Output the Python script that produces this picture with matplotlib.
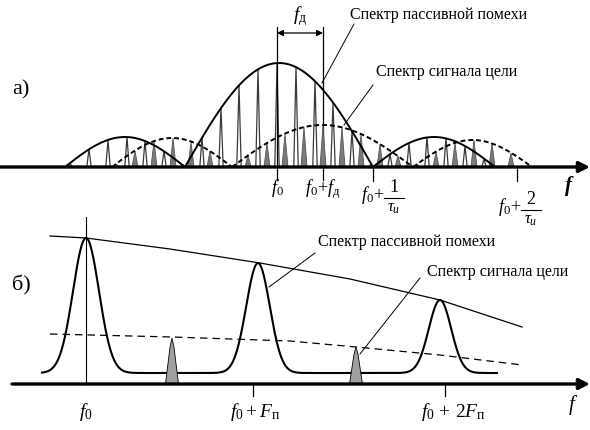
import numpy as np
import matplotlib
matplotlib.use('Agg')
from matplotlib import pyplot as plt

plt.rcParams['font.family'] = ['Liberation Serif', 'DejaVu Serif']
plt.rcParams['mathtext.fontset'] = 'custom'
plt.rcParams['mathtext.rm'] = 'Liberation Serif'
plt.rcParams['mathtext.it'] = 'Liberation Serif:italic'
plt.rcParams['mathtext.bf'] = 'Liberation Serif:bold:italic'

# ---- panel a) : comb spectra (x in px-like units, heights above the axis)
# lobes of envelopes: start, end, peak height
clutter_lobes = [(65, 185, 30), (185, 373, 104), (373, 495, 30)]
target_lobes = [(112, 232, 29), (232, 413, 42), (413, 532, 27)]

clutter_x = [70, 89, 108, 127, 145, 164, 183, 202, 221, 239, 258, 277,
             296, 315, 333, 352, 371, 390, 409, 427, 446, 465, 484]
clutter_h = [4, 18, 27, 30, 26, 16, 2, 29, 59, 82, 98, 104,
             100, 86, 64, 36, 3, 13, 24, 30, 29, 21, 8]
target_x = [116, 135, 154, 173, 191, 210, 229, 248, 267, 285, 304, 323,
            342, 361, 380, 398, 417, 436, 455, 474, 492, 511, 530]
target_h = [3, 16, 26, 29, 25, 16, 2, 12, 24, 33, 40, 42,
            40, 33, 23, 11, 3, 15, 24, 27, 24, 14, 1]

f0_a = 277
fd_a = 323
ticks_a = [373, 517]
frac_num = ['1', '2']

# ---- panel b) : filter response
peak_x = [86, 258, 440]
peak_h = [146, 121, 84]
peak_w = [13, 11.8, 11.2]
floor_h = 11
resp_range = (42, 497)

env_x = [50, 86, 170, 260, 350, 440, 522]
env_h = [148, 146, 135, 121, 105, 84, 57]
dash_x = [50, 172, 290, 356, 440, 522]
dash_h = [50, 47, 43, 37, 29, 19]
tgt_b_x = [172, 356]
tgt_b_h = [46, 37]
ticks_b = [86, 253, 445]
ticks_b_labels = [r'$f_0$', r'$f_0 + F_{\mathrm{п}}$', r'$f_0\, +\, 2F_{\mathrm{п}}$']

fig = plt.figure(figsize=(5.9, 4.3), dpi=100)
ax1 = fig.add_axes([0, 0.5, 1, 0.5])
ax1.set_xlim(0, 590)
ax1.set_ylim(-48, 167)
ax1.axis('off')

# spikes
for x, h in zip(clutter_x, clutter_h):
    ax1.fill([x - 2.2, x, x + 2.2], [0, h, 0], facecolor='white',
             edgecolor='#3a3a3a', lw=0.9, zorder=2)
for x, h in zip(target_x, target_h):
    ax1.fill([x - 3, x, x + 3], [0, h, 0], facecolor='#7a7a7a',
             edgecolor='#555555', lw=0.6, zorder=3)

# envelopes
for a, b, h in clutter_lobes:
    xx = np.linspace(a, b, 80)
    ax1.plot(xx, h * np.sin(np.pi * (xx - a) / (b - a)), color='k', lw=1.4, zorder=4)
for a, b, h in target_lobes:
    xx = np.linspace(a, b, 80)
    ax1.plot(xx, h * np.sin(np.pi * (xx - a) / (b - a)), color='k', lw=1.4,
             ls=(0, (2.5, 1.5)), zorder=4)

ax1.annotate('', xy=(590, 0), xytext=(0, 0),
             arrowprops=dict(arrowstyle='-|>', lw=2.4, color='k', mutation_scale=16,
                             shrinkA=0, shrinkB=0))
ax1.plot([f0_a, f0_a], [-13, 140], color='k', lw=0.9)
ax1.plot([fd_a, fd_a], [-13, 140], color='k', lw=0.9)
for t in ticks_a:
    ax1.plot([t, t], [0, -14], color='k', lw=0.9)
ax1.annotate('', xy=(f0_a, 134), xytext=(fd_a, 134),
             arrowprops=dict(arrowstyle='<|-|>', lw=0.9, color='k', mutation_scale=9,
                             shrinkA=0, shrinkB=0))
ax1.text(300, 151, r'$f_{\mathrm{д}}$', fontsize=14, ha='center', va='center')

ax1.text(f0_a, -21, r'$f_0$', fontsize=13, ha='center', va='center')
ax1.text(fd_a, -22, r'$f_0\!+\!f_{\mathrm{д}}$', fontsize=13, ha='center', va='center')

# f0 + n/tau labels, fraction built by hand
frac_pos = [(384, -28), (521, -40)]
for (xp, yp), num in zip(frac_pos, frac_num):
    ax1.text(xp, yp, r'$f_0\!+$', fontsize=13, ha='right', va='center')
    xc = xp + 10
    ax1.text(xc, yp - 1, num, fontsize=13, ha='center', va='bottom')
    ax1.plot([xp, xp + 20], [yp - 3, yp - 3], color='k', lw=0.8)
    ax1.text(xc, yp - 4.5, r'$\tau_{\mathit{и}}$', fontsize=12, ha='center', va='top')

ax1.text(569, -19, r'$\mathbf{f}$', fontsize=15, ha='center', va='center')
ax1.text(21, 77, 'а)', fontsize=16, ha='center', va='center')

ax1.text(350, 152, 'Спектр пассивной помехи', fontsize=11.5, ha='left', va='center')
ax1.plot([354, 322], [143, 84], color='k', lw=0.7)
ax1.text(376, 95, 'Спектр сигнала цели', fontsize=11.5, ha='left', va='center')
ax1.plot([373, 344], [82, 42], color='k', lw=0.7)

# ---- panel b
ax2 = fig.add_axes([0, 0, 1, 0.5])
ax2.set_xlim(0, 590)
ax2.set_ylim(-46, 169)
ax2.axis('off')

xx = np.linspace(resp_range[0], resp_range[1], 600)
yy = np.full_like(xx, float(floor_h))
for c, h, w in zip(peak_x, peak_h, peak_w):
    yy += (h - floor_h) * np.exp(-0.5 * ((xx - c) / w) ** 2)
ax2.plot(xx, yy, color='k', lw=1.5)
ax2.plot(env_x, env_h, color='k', lw=0.9)
ax2.plot(dash_x, dash_h, color='k', lw=0.9, ls=(0, (6, 4)))
for x, h in zip(tgt_b_x, tgt_b_h):
    ax2.fill([x - 6.5, x - 2, x, x + 2, x + 6.5], [0, h * 0.8, h, h * 0.8, 0],
             facecolor='#a0a0a0', edgecolor='k', lw=0.6, zorder=3)

ax2.annotate('', xy=(590, 0), xytext=(12, 0),
             arrowprops=dict(arrowstyle='-|>', lw=2.4, color='k', mutation_scale=16,
                             shrinkA=0, shrinkB=0))
ax2.plot([ticks_b[0], ticks_b[0]], [0, 167], color='k', lw=0.8)
for t in ticks_b[1:]:
    ax2.plot([t, t], [0, -12], color='k', lw=0.9)
label_dx = [0, 2, 8]
for t, lab, dx in zip(ticks_b, ticks_b_labels, label_dx):
    ax2.text(t + dx, -28, lab, fontsize=14, ha='center', va='center')
ax2.text(573, -21, r'$f$', fontsize=15, ha='center', va='center')
ax2.text(21, 99, 'б)', fontsize=16, ha='center', va='center')

ax2.text(318, 142, 'Спектр пассивной помехи', fontsize=11.5, ha='left', va='center')
ax2.plot([315, 269], [131, 97], color='k', lw=0.7)
ax2.text(427, 112, 'Спектр сигнала цели', fontsize=11.5, ha='left', va='center')
ax2.plot([420, 360], [106, 30], color='k', lw=0.7)

fig.savefig('out.png', dpi=100)
